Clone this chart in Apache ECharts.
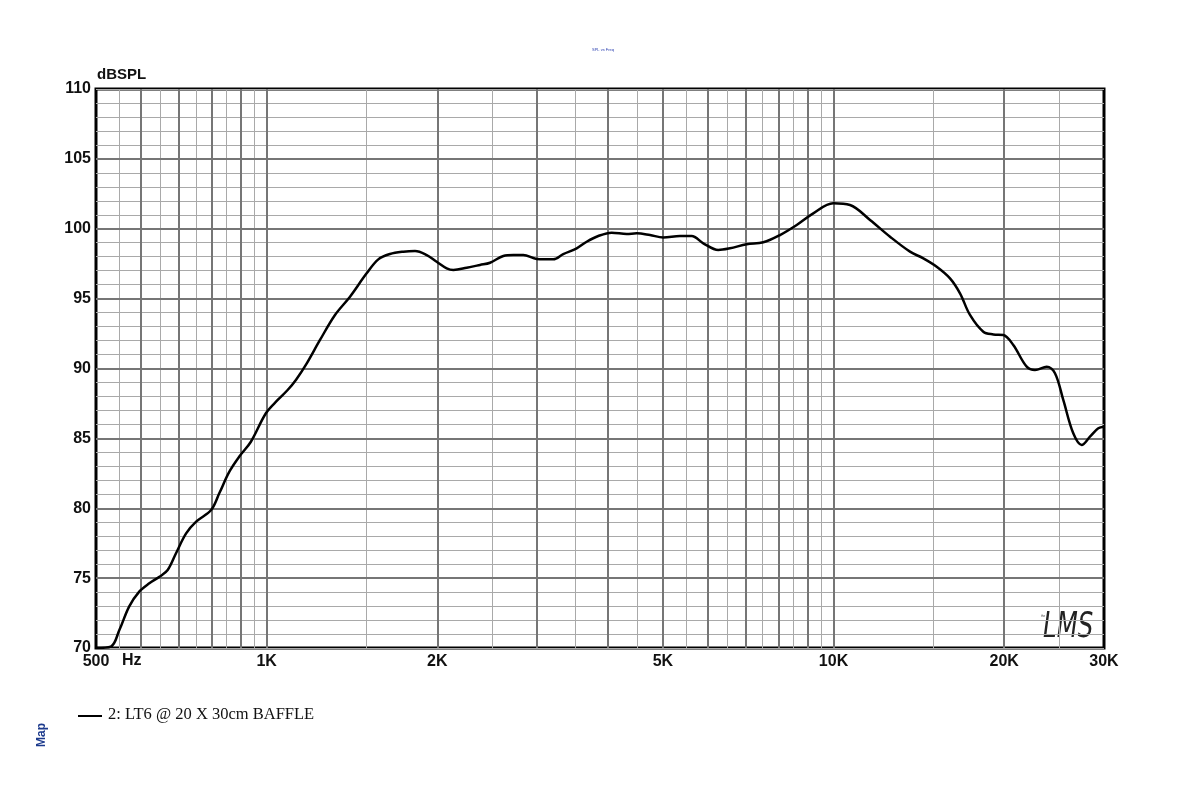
<!DOCTYPE html>
<html>
<head>
<meta charset="utf-8">
<script src="https://cdn.jsdelivr.net/npm/echarts@6/dist/echarts.min.js"></script>
<style>html,body{margin:0;padding:0;background:#fff;}#c{width:1200px;height:791px;}</style>
</head>
<body>
<div id="c"></div>
<script>
// ---- data ----
const freqs = [500,531,550,572,596,621,647,669,692,721,751,798,825,859,895,938,997,1046,1089,1127,1177,1242,1320,1403,1501,1574,1650,1742,1827,1916,1995,2078,2135,2254,2379,2478,2615,2724,2836,2995,3204,3336,3523,3669,3846,4061,4316,4494,4745,5008,5360,5620,5891,6262,6566,7028,7518,8046,8611,9210,9988,10692,11598,12579,13643,14401,15205,16049,16715,17407,18374,19136,19929,20754,21916,22668,23769,24584,25426,26480,27399,28338,29310,30000];
const spl = [70.0,70.1,71.3,72.96,74.03,74.63,75.1,75.58,76.78,78.2,79.04,79.87,81.07,82.6,83.7,84.76,86.8,87.75,88.46,89.2,90.37,92.04,93.83,95.14,96.81,97.81,98.19,98.36,98.41,98.12,97.64,97.17,97.05,97.21,97.41,97.57,98.05,98.12,98.12,97.84,97.81,98.19,98.6,99.07,99.48,99.72,99.62,99.67,99.55,99.38,99.48,99.48,98.96,98.48,98.6,98.89,99.03,99.55,100.27,101.1,101.82,101.7,100.63,99.43,98.36,97.88,97.28,96.45,95.38,93.83,92.63,92.44,92.4,91.68,90.13,89.89,90.13,89.66,87.75,85.36,84.53,85.12,85.72,85.84];
const xTickValues = [500,1000,2000,5000,10000,20000,30000];
const xTickLabels = ['500','1K','2K','5K','10K','20K','30K'];
const xMajorGrid = [600,700,800,900,1000,2000,3000,4000,5000,6000,7000,8000,9000,10000,20000];
const xMinorGrid = [550,650,750,850,950,1500,2500,3500,4500,5500,6500,7500,8500,9500,15000,25000];
const yMajorGrid = [75,80,85,90,95,100,105];
const seriesName = '2: LT6 @ 20 X 30cm BAFFLE';

const DARK = '#767676', LIGHT = '#a9a9a9';
const chart = echarts.init(document.getElementById('c'), null, {renderer:'canvas'});
const lineData = freqs.map((f,i)=>[f, spl[i]]);
const mk = (arr, key, color, width) => arr.map(v => ({[key]: v, lineStyle:{color, width, type:'solid'}}));

chart.setOption({
  animation: false,
  backgroundColor: '#fff',
  grid: {left: 96, right: 96, top: 89, bottom: 143, show: true, borderColor: '#000', borderWidth: 3, backgroundColor: 'transparent'},
  xAxis: {
    type: 'log', logBase: 10, min: 500, max: 30000,
    axisLine: {show: false}, axisTick: {show: false}, splitLine: {show: false}, minorSplitLine:{show:false},
    axisLabel: {
      customValues: xTickValues,
      formatter: v => { const i = xTickValues.findIndex(t => Math.abs(t - v) < 1e-6 * t); return i >= 0 ? xTickLabels[i] : ''; },
      fontFamily: 'Liberation Sans, Arial, sans-serif', fontWeight: 'bold', fontSize: 16, color: '#111', margin: 6,
      showMinLabel: true, showMaxLabel: true
    }
  },
  yAxis: {
    type: 'value', min: 70, max: 110, interval: 1,
    axisLine: {show: false}, axisTick: {show: false},
    splitLine: {show: true, lineStyle: {color: LIGHT, width: 1}},
    axisLabel: {
      formatter: v => (v % 5 === 0 ? String(v) : ''),
      fontFamily: 'Liberation Sans, Arial, sans-serif', fontWeight: 'bold', fontSize: 16, color: '#111', margin: 5
    }
  },
  series: [
    {
      type: 'line', data: [], silent: true, z: 1,
      markLine: {silent: true, symbol: ['none','none'], label: {show: false}, animation: false,
        data: mk(xMinorGrid, 'xAxis', LIGHT, 1).concat(mk(xMajorGrid, 'xAxis', DARK, 2)).concat(mk(yMajorGrid, 'yAxis', DARK, 2))}
    },
    {
      name: seriesName, type: 'line', data: lineData, smooth: 0.35, showSymbol: false, z: 5,
      lineStyle: {color: '#000', width: 2.5}
    }
  ],
  graphic: [
    {type:'text', left: 97, top: 67, style:{text:'dBSPL', fontSize: 15, fontWeight:'bold', fontFamily:'"Liberation Sans", Arial, sans-serif', fill:'#111'}},
    {type:'text', left: 122, top: 653, style:{text:'Hz', fontSize: 16, fontWeight:'bold', fontFamily:'"Liberation Sans", Arial, sans-serif', fill:'#111'}},
    {type:'text', left: 592, top: 48, style:{text:'SPL vs Freq', fontSize: 4, fontFamily:'"Liberation Sans", Arial, sans-serif', fill:'#2a3fb0'}},
    {type:'line', shape:{x1:78, y1:716, x2:102, y2:716}, style:{stroke:'#000', lineWidth:2}},
    {type:'text', left: 108, top: 706, style:{text: seriesName, fontSize: 16.5, fontFamily:'"Liberation Serif", "Times New Roman", serif', fill:'#111'}},
    {type:'text', x: 42, y: 735, rotation: Math.PI/2, style:{text:'Map', fontSize: 12, fontWeight:'bold', fontFamily:'"Liberation Sans", Arial, sans-serif', fill:'#1c3a8c', align:'center', verticalAlign:'middle'}},
    {type:'text', x: 1043, y: 610, scaleX: 0.68, style:{text:'LMS', fontSize: 36, fontStyle:'italic', fontWeight: 200, fontFamily:'"DejaVu Sans ExtraLight", "DejaVu Sans", sans-serif', fill:'#222'}},
    {type:'text', x: 1041, y: 615, style:{text:'the', fontSize: 3, fontFamily:'"Liberation Sans", sans-serif', fill:'#444'}}
  ]
});
</script>
</body>
</html>
